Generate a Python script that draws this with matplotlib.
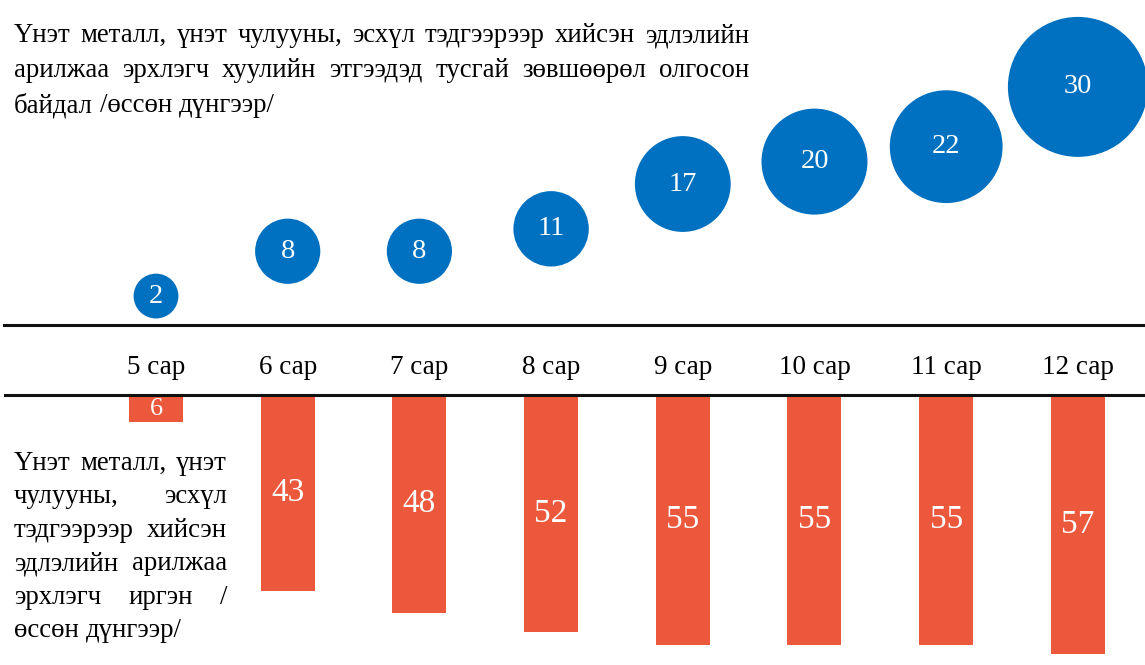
import matplotlib
matplotlib.use("Agg")
import matplotlib.pyplot as plt
from matplotlib.lines import Line2D
from matplotlib.transforms import blended_transform_factory

plt.rcParams["font.family"] = ["Liberation Serif", "DejaVu Serif"]

# ---- data ----
months = ["5 сар", "6 сар", "7 сар", "8 сар", "9 сар", "10 сар", "11 сар", "12 сар"]
licensed_entities = [2, 8, 8, 11, 17, 20, 22, 30]      # cumulative, legal entities
individual_traders = [6, 43, 48, 52, 55, 55, 55, 57]   # cumulative, individuals

top_caption = [
    "Үнэт металл, үнэт чулууны, эсхүл тэдгээрээр хийсэн эдлэлийн",
    "арилжаа эрхлэгч хуулийн этгээдэд тусгай зөвшөөрөл олгосон",
    "байдал /өссөн дүнгээр/",
]
bottom_caption = [
    "Үнэт металл, үнэт",
    "чулууны, эсхүл",
    "тэдгээрээр хийсэн",
    "эдлэлийн арилжаа",
    "эрхлэгч иргэн /",
    "өссөн дүнгээр/",
]

# ---- layout (pixels) ----
W, H = 1145, 665
X_FIRST, X_STEP = 156, 131.7          # centre of first column, column pitch
BUBBLE_Y0, BUBBLE_K = 311, 7.47       # bubble centre: y = Y0 - K * value
BAR_BASE, BAR_K = 395, 4.55           # bars hang from BAR_BASE, K px per unit
LINE_TOP, LINE_BOTTOM = 325, 395
LABEL_Y = 368
BLUE = "#0070C0"
RED = "#EC583B"

fig = plt.figure(figsize=(W / 100, H / 100), dpi=100)
fig.patch.set_facecolor("white")

xlim = (-X_FIRST / X_STEP, (W - X_FIRST) / X_STEP)
xs = list(range(len(months)))

# bubbles: y axis in value units
axb = fig.add_axes([0, 0, 1, 1])
axb.set_xlim(*xlim)
axb.set_ylim((BUBBLE_Y0 - H) / BUBBLE_K, BUBBLE_Y0 / BUBBLE_K)
axb.axis("off")
radii_px = [19 + 1.7 * v for v in licensed_entities]
sizes = [(2 * r * 72 / 100) ** 2 for r in radii_px]
axb.scatter(xs, licensed_entities, s=sizes, color=BLUE, linewidths=0, zorder=3)
for x, v in zip(xs, licensed_entities):
    axb.text(x, v, str(v), color="white", fontsize=20.5, ha="center", va="center",
             zorder=4)

# hanging bars: y axis inverted, value units
axr = fig.add_axes([0, 0, 1, 1])
axr.set_xlim(*xlim)
axr.set_ylim((H - BAR_BASE) / BAR_K, -BAR_BASE / BAR_K)
axr.axis("off")
axr.patch.set_alpha(0)
axr.bar(xs, individual_traders, width=54 / X_STEP, bottom=0, color=RED,
        linewidth=0, zorder=2)
for x, v in zip(xs, individual_traders):
    axr.text(x, v / 2, str(v), color="white", fontsize=24 if v > 20 else 19,
             ha="center", va="center", zorder=4)

# month labels between the two rules
tr = blended_transform_factory(axr.transData, fig.transFigure)
for x, m in zip(xs, months):
    axr.text(x, 1 - LABEL_Y / H, m, transform=tr, fontsize=19.5,
             ha="center", va="center")

for yl, x0 in ((LINE_TOP, 4), (LINE_BOTTOM, 5)):
    fig.add_artist(Line2D([x0 / W, 1], [1 - yl / H] * 2, color="#111111",
                          lw=2.2, transform=fig.transFigure, zorder=5))


def justified(lines, x0, x1, y0, step, size):
    """Draw lines word by word, stretching every line except the last."""
    r = fig.canvas.get_renderer()
    space = 0.25 * size * 100 / 72
    for k, line in enumerate(lines):
        words = line.split(" ")
        y = 1 - (y0 + k * step) / H
        arts = [fig.text(0, y, w, fontsize=size, va="baseline", ha="left")
                for w in words]
        widths = [a.get_window_extent(r).width for a in arts]
        if k == len(lines) - 1 or len(words) == 1:
            gap = space
        else:
            gap = ((x1 - x0) - sum(widths)) / (len(words) - 1)
        x = x0
        for a, w in zip(arts, widths):
            a.set_x(x / W)
            x += w + gap


justified(top_caption, 14, 749, 42, 35, 19.3)
justified(bottom_caption, 14, 227, 470, 33.4, 19.3)

fig.savefig("out.png", dpi=100, facecolor="white")
